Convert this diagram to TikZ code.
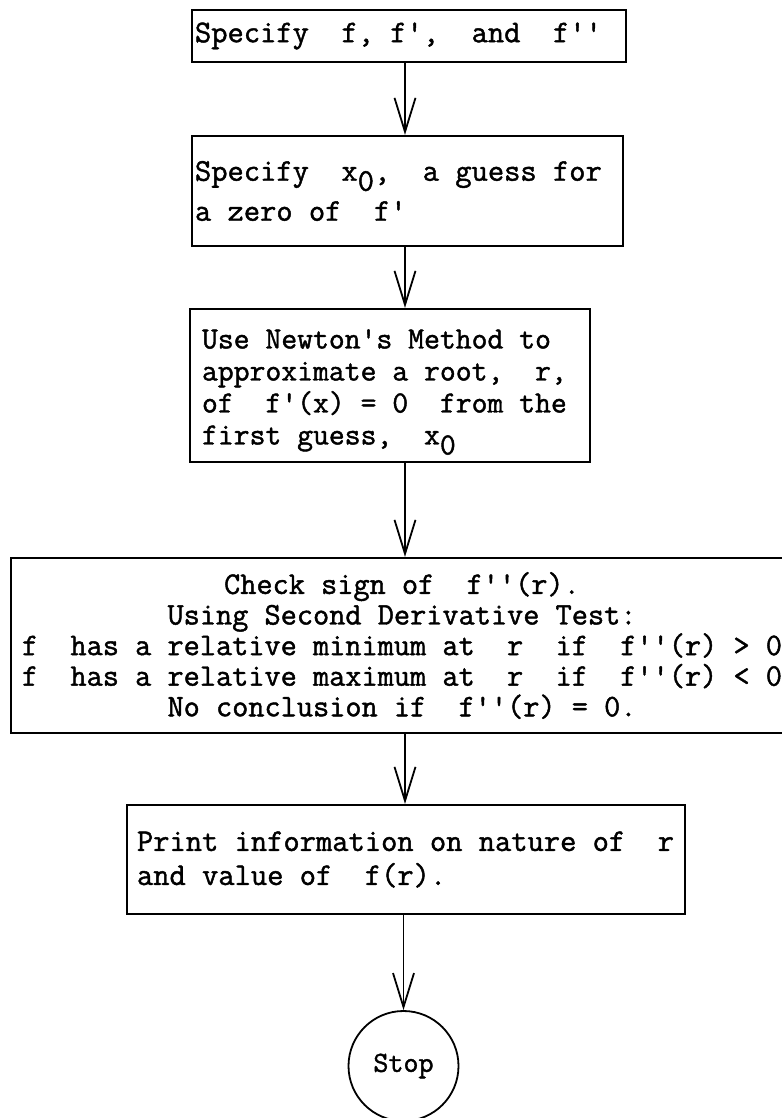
\documentclass[tikz,border=0pt]{standalone}
\usepackage{fontspec}
\newfontfamily\tw[FakeBold=1.4]{Latin Modern Mono}
\usetikzlibrary{arrows.meta}
\newcommand\subz{\raisebox{-5pt}[\height][0pt]{0}}
\newcommand\tb{\hskip\fontcharwd\font`x\relax}
\tikzset{
  box/.style={draw,line width=1.1pt,rectangle,inner ysep=0pt,align=left},
  arr/.style={line width=0.9pt,-{Straight Barb[length=17pt,width=10.5pt]}},
  fs/.style={font=\tw\fontsize{15.8pt}{#1}\selectfont}
}
\begin{document}
\begin{tikzpicture}[x=0.5pt,y=-0.5pt]
\useasboundingbox (0,0) rectangle (781,1118);
\fill[white] (0,0) rectangle (781,1118);
\coordinate (col) at (405,0);

\node[box,fs=20pt,minimum height=26pt,text width=214pt,inner xsep=1.5pt] (b1) at (409,36)
  {\mbox{Specify\tb\tb f,\tb f',\tb\tb and\tb\tb f''}};
\node[box,fs=20pt,minimum height=55pt,text width=212.5pt,inner xsep=1.5pt] (b2) at (407.5,191)
  {\mbox{Specify\tb\tb x\subz,\tb\tb a\tb guess\tb for}\\\mbox{a\tb zero\tb of\tb\tb f'}};
\node[box,font=\tw\fontsize{15.4pt}{16pt}\selectfont,minimum height=76.5pt,text width=188pt,inner xsep=6pt] (b3) at (390,385.5)
  {\mbox{\rule{0pt}{14.5pt}Use\tb Newton's\tb Method\tb to}\\\mbox{approximate\tb a\tb root,\tb\tb r,}\\\mbox{of\tb\tb f'(x)\tb =\tb 0\tb\tb from\tb the}\\\mbox{first\tb guess,\tb\tb x\subz}};
\node[box,font=\tw\fontsize{15.7pt}{15.3pt}\selectfont,minimum height=87.5pt,text width=387pt,inner xsep=2pt,align=center] (b4) at (402,645.5)
  {\mbox{Check\tb sign\tb of\tb\tb f''(r).}\\\mbox{Using\tb Second\tb Derivative\tb Test:}\\\mbox{f\tb\tb has\tb a\tb relative\tb minimum\tb at\tb\tb r\tb\tb if\tb\tb f''(r)\tb >\tb 0}\\\mbox{f\tb\tb has\tb a\tb relative\tb maximum\tb at\tb\tb r\tb\tb if\tb\tb f''(r)\tb <\tb 0}\\\mbox{No\tb conclusion\tb if\tb\tb f''(r)\tb =\tb 0.}};
\node[box,fs=17pt,minimum height=54.5pt,text width=269pt,inner xsep=5pt] (b5) at (406,859.5)
  {\mbox{Print\tb information\tb on\tb nature\tb of\tb\tb r}\\\mbox{and\tb value\tb of\tb\tb f(r).}};
\node[draw,circle,line width=0.9pt,minimum size=55pt,inner sep=0pt,font=\tw\fontsize{14.6pt}{17pt}\selectfont] (st) at (403.5,1066) {Stop};

\draw[arr] (b1.south -| col) -- (b2.north -| col);
\draw[arr] (b2.south -| col) -- (b3.north -| col);
\draw[arr] (b3.south -| col) -- (b4.north -| col);
\draw[arr] (b4.south -| col) -- (b5.north -| col);
\draw[arr] (b5.south -| st.north) -- (st.north);
\end{tikzpicture}
\end{document}
